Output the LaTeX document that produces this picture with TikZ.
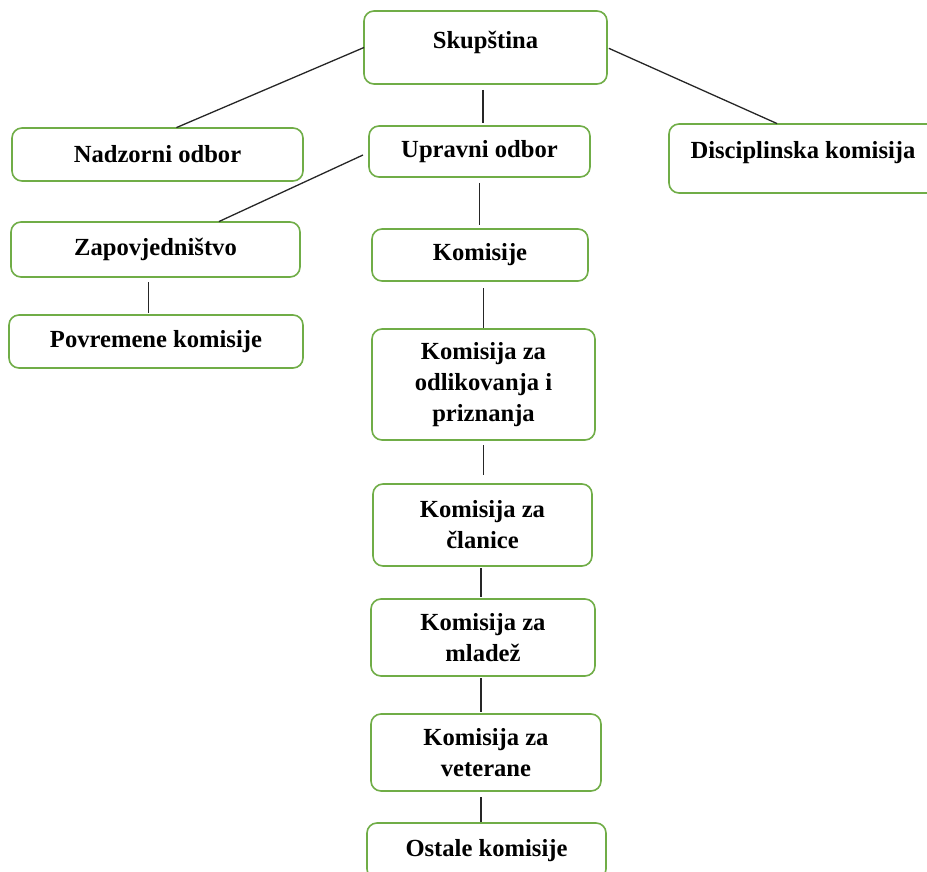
\documentclass[tikz,border=0pt]{standalone}
\usepackage{fontspec}
\setmainfont{Liberation Serif}
\usetikzlibrary{positioning}
\definecolor{boxgreen}{RGB}{112,173,71}
\tikzstyle{orgbox} = [draw=boxgreen, line width=1.6pt, rounded corners=10pt, fill=white, align=center, inner sep=0pt, outer sep=0pt, font=\bfseries\fontsize{24.6}{31}\selectfont]
\tikzstyle{link} = [draw=black!85, line width=1.3pt]

\begin{document}
\begin{tikzpicture}[x=1pt, y=-1pt]
\useasboundingbox (0,0) rectangle (927,872);

% Define nodes
\node[orgbox, minimum width=243pt, minimum height=73pt, text depth=16pt] (sk) at (485.5,47.5) {Skupština};
\node[orgbox, minimum width=221pt, minimum height=51pt, below = 42pt of sk, xshift = -6pt]  (up) {Upravni odbor};
\node[orgbox, minimum width=291pt, minimum height=53pt, left = 66pt of up, yshift = -3pt]  (nz) {Nadzorni odbor};
\node[orgbox, minimum width=268pt, minimum height=69pt, text depth=18pt, right = 79pt of up, yshift = -7pt] (dk) {Disciplinska komisija};

\node[orgbox, minimum width=289pt, minimum height=55pt, below = 41pt of nz, xshift = -2pt]  (zp) {Zapovjedništvo};
\node[orgbox, minimum width=294pt, minimum height=53pt, below = 38pt of zp, xshift = .5pt]  (pv) {Povremene komisije};

\node[orgbox, minimum width=216pt, minimum height=52pt, below = 52pt of up, xshift = .5pt]  (km) {Komisije};
\node[orgbox, minimum width=223pt, minimum height=111pt, below = 48pt of km, xshift = 3.5pt] (od) {Komisija za\\odlikovanja i\\priznanja};
\node[orgbox, minimum width=219pt, minimum height=82pt, below = 44pt of od, xshift = -1pt]  (cl) {Komisija za\\članice};
\node[orgbox, minimum width=224pt, minimum height=77pt, below = 33pt of cl, xshift = .5pt]  (ml) {Komisija za\\mladež};
\node[orgbox, minimum width=230pt, minimum height=77pt, below = 38pt of ml, xshift = 3pt]   (vt) {Komisija za\\veterane};
\node[orgbox, minimum width=239pt, minimum height=56pt, below = 32pt of vt, xshift = .5pt]  (os) {Ostale komisije};

% Edges
\draw[link, shorten >=1pt] (sk.west) -- ([xshift=18pt]nz.north);
\draw[link, shorten <=2pt, shorten >=1pt] (sk.east) -- ([xshift=109pt]dk.north west);
\draw[link, shorten <=6pt, shorten >=3pt] ([xshift=-2.5pt]sk.south) -- ([xshift=-2.5pt]sk.south |- up.north);
\draw[link, shorten >=1pt] ([xshift=-6pt, yshift=-3.5pt]up.west) -- ([xshift=62.5pt]zp.north);
\draw[link, shorten <=6pt, shorten >=4pt] (up.south) -- (up.south |- km.north);
\draw[link, shorten <=5pt, shorten >=2pt] ([xshift=-7pt]zp.south) -- ([xshift=-7pt]zp.south |- pv.north);
\draw[link, shorten <=7pt, shorten >=1pt] (od.north |- km.south) -- (od.north);
\draw[link, shorten <=5pt, shorten >=9pt] (od.south) -- (od.south |- cl.north);
\draw[link, shorten <=2pt, shorten >=2pt] ([xshift=-1.5pt]cl.south) -- ([xshift=-1.5pt]cl.south |- ml.north);
\draw[link, shorten <=2pt, shorten >=2pt] ([xshift=-2pt]ml.south) -- ([xshift=-2pt]ml.south |- vt.north);
\draw[link, shorten <=6pt, shorten >=1pt] ([xshift=-5pt]vt.south) -- ([xshift=-5pt]vt.south |- os.north);
\end{tikzpicture}
\end{document}
